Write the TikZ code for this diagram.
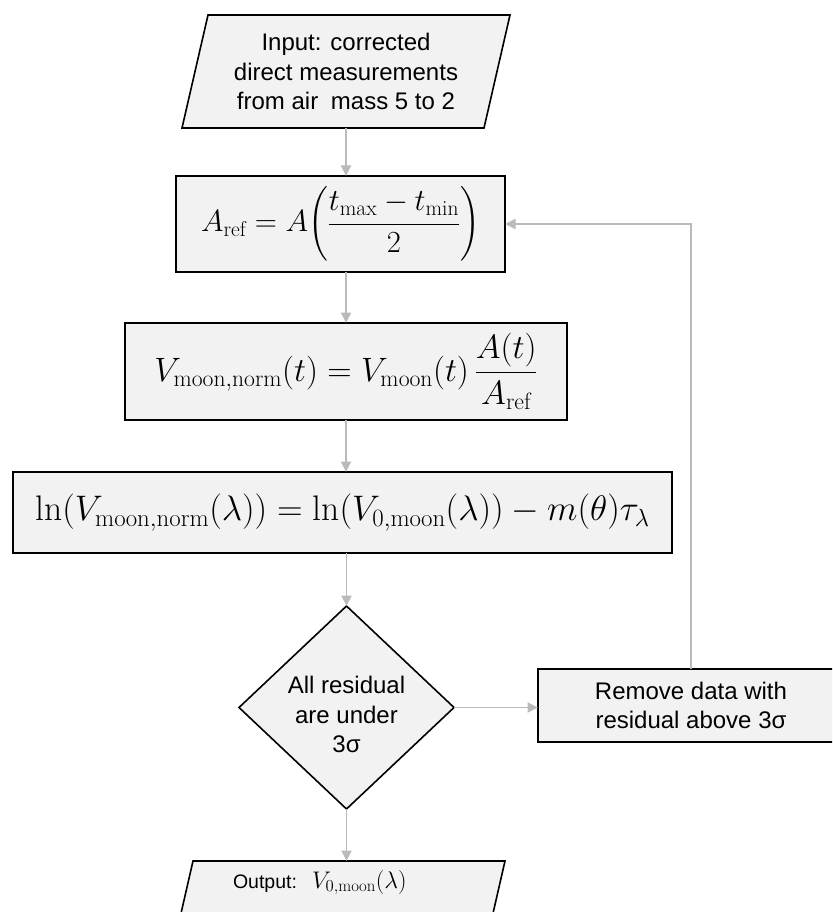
\documentclass[tikz,border=0pt]{standalone}
\usepackage{fix-cm}
\usepackage{amsmath}
\usepackage{fontspec}
\newfontfamily\arial{Liberation Sans}
\usetikzlibrary{shapes.geometric,arrows.meta,calc,backgrounds}

\definecolor{boxfill}{HTML}{F2F2F2}
\definecolor{linkgray}{HTML}{BABABA}

\tikzset{
  every node/.style={inner sep=0pt, outer sep=0pt},
  outline/.style={draw=black, line width=1.6pt},
  procbox/.style={rectangle, outline, fill=boxfill},
  decision/.style={diamond, outline, fill=boxfill},
  link/.style={draw=linkgray, line width=1.9pt, -{Triangle[length=10.5pt,width=10pt]}},
  sanslabel/.style={font=\arial\fontsize{24}{29.5}\selectfont, align=center},
}

\begin{document}
\begin{tikzpicture}[x=1pt,y=-1pt]
\useasboundingbox (0,0) rectangle (832,912);
\clip (0,0) rectangle (832,912);

% input data (parallelogram)
\node[sanslabel, minimum width=302, minimum height=113] (in) at (346,71.5)
  {Input: corrected\\direct measurements\\ from air\hspace{0.25em} mass 5 to 2};

% reference air mass
\node[procbox, minimum width=329, minimum height=96] (aref) at (340.5,224)
  {\fontsize{30.7}{36}\selectfont
   $\displaystyle A_{\mathrm{ref}} = A\biggl(\frac{t_{\max}-t_{\min}}{2}\biggr)$};

% normalised lunar signal
\node[procbox, minimum width=442, minimum height=97] (vnorm) at (346,371.5)
  {\fontsize{33.8}{40}\selectfont
   $\displaystyle V_{\mathrm{moon{,}norm}}(t) = V_{\mathrm{moon}}(t)\,\frac{A(t)}{A_{\mathrm{ref}}}$};

% Langley regression
\node[procbox, minimum width=659, minimum height=81] (lnrel) at (342.5,512.5)
  {\fontsize{35.5}{42}\selectfont
   $\ln(V_{\mathrm{moon{,}norm}}(\lambda)) = \ln(V_{0,\mathrm{moon}}(\lambda)) - m(\theta)\tau_{\lambda}$};

% residual test
\node[decision, minimum width=215, minimum height=203] (check) at (346.5,707.5) {};
\node[sanslabel] (checktext) at (346.5,714.5) {All residual\\are under\\3σ};

% outlier removal
\node[procbox, sanslabel, minimum width=306, minimum height=73] (remove) at (691,705.5)
  {Remove data with\\residual above 3σ};

% output data (parallelogram)
\node[minimum width=312, minimum height=51] (out) at (349,886.5) {};
\node[anchor=base west] (outtext) at (233,888)
  {\makebox[79pt][l]{\arial\fontsize{19.5}{23}\selectfont Output:}%
   {\fontsize{24}{29}\selectfont$V_{0,\mathrm{moon}}(\lambda)$}};

\begin{scope}[on background layer]
  \draw[outline, fill=boxfill]
    ($(in.north west)+(13,0)$) -- ($(in.north east)+(13,0)$) --
    ($(in.south east)+(-13,0)$) -- ($(in.south west)+(-13,0)$) -- cycle;
  \fill[boxfill]
    ($(out.south west)+(-11.7,0)$) -- (out.north west) --
    (out.north east) -- ($(out.south east)+(-11.7,0)$) -- cycle;
  \draw[outline]
    ($(out.south west)+(-11.7,0)$) -- (out.north west) --
    (out.north east) -- ($(out.south east)+(-11.7,0)$);
\end{scope}

% connectors
\draw[link] (in.south) -- (in.south |- aref.north);
\draw[link] (vnorm.north |- aref.south) -- (vnorm.north);
\draw[link] (vnorm.south) -- (vnorm.south |- lnrel.north);
\draw[link] (check.north |- lnrel.south) -- (check.north);
\draw[link] (check.south) -- (check.south |- out.north);
\draw[link] (check.east) -- (check.east -| remove.west);
\draw[link] (remove.north) |- (aref.east);
\end{tikzpicture}
\end{document}
